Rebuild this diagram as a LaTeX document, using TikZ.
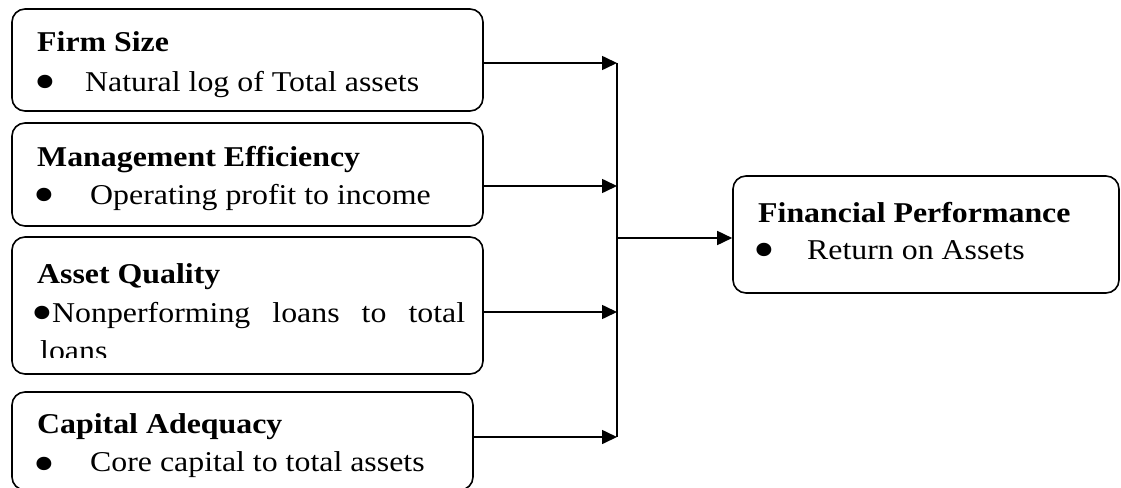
\documentclass[tikz,border=0pt]{standalone}
\usepackage{fontspec}
\setmainfont{Liberation Serif}[FakeStretch=1.11]
\usetikzlibrary{arrows.meta}
\tikzset{
  box/.style={draw, line width=1.6pt, rounded corners=13pt, inner sep=0pt},
  ttl/.style={anchor=base west, inner sep=0pt, font=\fontsize{28.7}{34}\selectfont\bfseries},
  itm/.style={anchor=base west, inner sep=0pt, font=\fontsize{28.7}{34}\selectfont},
  bul/.style={anchor=base, inner sep=0pt, font=\fontsize{56}{56}\selectfont},
  link/.style={line width=1.6pt},
  arr/.style={line width=1.6pt, -{Triangle[length=15pt,width=14pt]}}
}
\newcommand{\bulletmark}{\makebox[0pt]{\smash{•}}}
\begin{document}
\begin{tikzpicture}[x=1pt,y=-1pt]
\clip (0,0) rectangle (1121,487);
% boxes
\node[box, minimum width=471pt, minimum height=102pt] (b1) at (247.5,60) {};
\node[box, minimum width=471pt, minimum height=103pt] (b2) at (247.5,174.5) {};
\node[box, minimum width=471pt, minimum height=137pt] (b3) at (247.5,305.5) {};
\node[box, minimum width=461pt, minimum height=98pt] (b4) at (242.5,441) {};
\node[box, minimum width=386pt, minimum height=117pt] (fp) at (926,234.5) {};
% texts box 1
\node[ttl] (t1) at (37,52) {Firm Size};
\node[bul] (u1) at (45,100) {\bulletmark};
\node[itm] (i1) at (85,91) {Natural log of Total assets};
% box 2
\node[ttl] (t2) at (37,166) {Management Efficiency};
\node[bul] (u2) at (44,213) {\bulletmark};
\node[itm] (i2) at (90,204) {Operating profit to income};
% box 3
\node[ttl] (t3) at (37,283) {Asset Quality};
\node[bul] (u3) at (42,331) {\bulletmark};
\node[itm] (i3) at (52,322) {\makebox[413pt][s]{Nonperforming loans to total}};
\begin{scope}
\clip (0,330) rectangle (480,357.5);
\node[itm] (i3b) at (40,360) {loans};
\end{scope}
% box 4
\node[ttl] (t4) at (37,433) {Capital Adequacy};
\node[bul] (u4) at (44,482) {\bulletmark};
\node[itm] (i4) at (90,471.5) {Core capital to total assets};
% result box
\node[ttl] (t5) at (758,222) {Financial Performance};
\node[bul] (u5) at (764,268) {\bulletmark};
\node[itm] (i5) at (807,259) {Return on Assets};
% connectors
\coordinate (j1) at (617,63);
\coordinate (j2) at (617,186);
\coordinate (j3) at (617,312);
\coordinate (j4) at (617,437);
\coordinate (jm) at (617,238);
\draw[arr] (b1.east |- j1) -- (j1);
\draw[arr] (b2.east |- j2) -- (j2);
\draw[arr] (b3.east |- j3) -- (j3);
\draw[arr] (b4.east |- j4) -- (j4);
\draw[link] (j1) -- (j4);
\draw[arr] (jm) -- (fp.west |- jm);
\end{tikzpicture}
\end{document}
